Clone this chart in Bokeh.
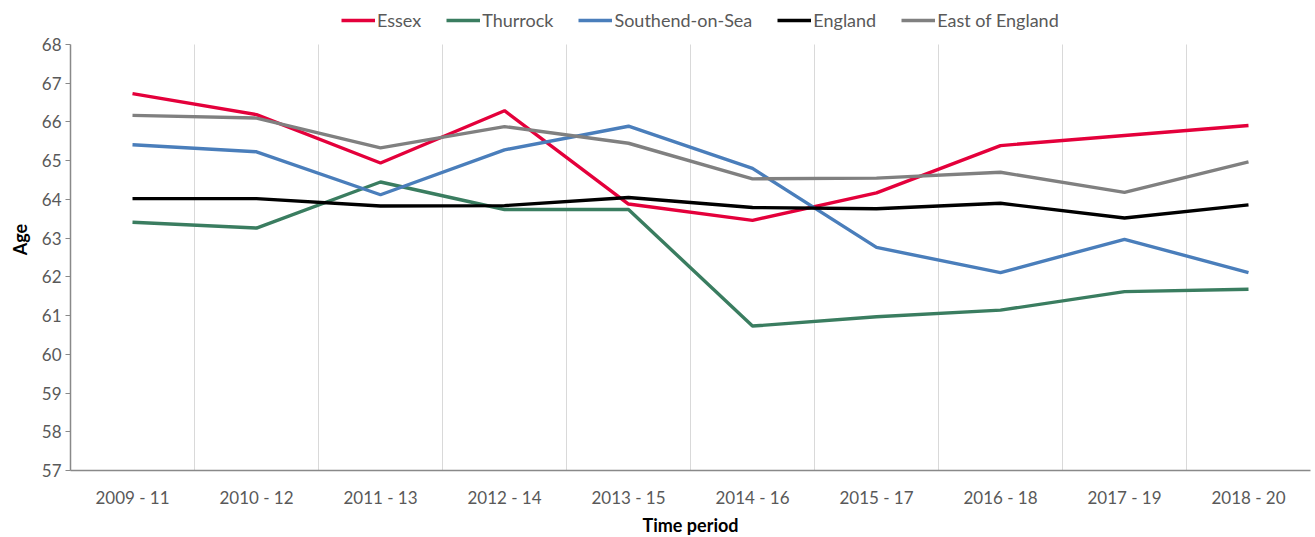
from bokeh.plotting import figure
from bokeh.models import Legend, LegendItem, FixedTicker, Range1d
from bokeh.embed import file_html
from bokeh.resources import INLINE

periods = ["2009 - 11", "2010 - 12", "2011 - 13", "2012 - 14", "2013 - 15",
           "2014 - 16", "2015 - 17", "2016 - 18", "2017 - 19", "2018 - 20"]
essex = [66.73, 66.19, 64.94, 66.29, 63.88, 63.46, 64.17, 65.39, 65.65, 65.91]
thurrock = [63.41, 63.26, 64.45, 63.74, 63.74, 60.73, 60.97, 61.14, 61.62, 61.68]
southend = [65.41, 65.23, 64.12, 65.28, 65.89, 64.80, 62.76, 62.11, 62.97, 62.11]
england = [64.02, 64.02, 63.83, 63.84, 64.05, 63.79, 63.76, 63.90, 63.52, 63.86]
east = [66.17, 66.10, 65.33, 65.88, 65.45, 64.53, 64.55, 64.70, 64.18, 64.97]

series = [("Essex", essex, "#E4003B"),
          ("Thurrock", thurrock, "#3A7D60"),
          ("Southend-on-Sea", southend, "#4A7EBB"),
          ("England", england, "#000000"),
          ("East of England", east, "#808080")]

FONT = "Lato"
xs = [i + 0.5 for i in range(len(periods))]

Y_MIN, Y_MAX = 57, 68
PX_PER_UNIT = 426 / (Y_MAX - Y_MIN)
y_top = Y_MAX + 36 / PX_PER_UNIT  # room above the axis for the legend

p = figure(frame_width=1240, frame_height=462, output_backend="svg", toolbar_location=None,
           x_range=Range1d(0, len(periods)), y_range=Range1d(Y_MIN, y_top),
           min_border_left=70, min_border_right=4, min_border_top=8, min_border_bottom=0)
p.outline_line_color = None
p.background_fill_color = "white"

items = []
for name, vals, col in series:
    r = p.line(xs, vals, line_color=col, line_width=3.4)
    items.append(LegendItem(label=name, renderers=[r]))

p.xaxis.ticker = FixedTicker(ticks=xs)
p.xaxis.major_label_overrides = {x: lab for x, lab in zip(xs, periods)}
p.xgrid.ticker = FixedTicker(ticks=list(range(1, len(periods) + 1)))
p.xgrid.grid_line_color = "#D9D9D9"
p.xgrid.grid_line_width = 1
p.xgrid.cross_bounds = (Y_MIN, Y_MAX)
p.ygrid.grid_line_color = None

p.yaxis.ticker = FixedTicker(ticks=list(range(Y_MIN, Y_MAX + 1)))
p.yaxis.bounds = (Y_MIN, Y_MAX)

for ax in (p.xaxis[0], p.yaxis[0]):
    ax.axis_line_color = "#898989"
    ax.axis_line_width = 1.5
    ax.major_label_text_font = FONT
    ax.major_label_text_font_size = "17px"
    ax.major_label_text_color = "#595959"
    ax.minor_tick_line_color = None
    ax.axis_label_text_font = FONT
    ax.axis_label_text_font_size = "18px"
    ax.axis_label_text_font_style = "bold"
    ax.axis_label_text_color = "#000000"

p.xaxis.major_tick_line_color = None
p.xaxis.major_label_standoff = 10
p.xaxis.axis_label = "Time period"
p.xaxis.axis_label_standoff = 3
p.yaxis.major_tick_line_color = "#898989"
p.yaxis.major_tick_out = 5
p.yaxis.major_tick_in = 0
p.yaxis.major_label_standoff = 4
p.yaxis.axis_label = "Age"
p.yaxis.axis_label_standoff = 8

legend = Legend(items=items, orientation="horizontal", location=(271, 439),
                label_text_font=FONT, label_text_font_size="18px",
                label_text_color="#595959", glyph_width=34, glyph_height=20,
                label_standoff=2, spacing=25, padding=4, margin=0,
                border_line_color=None, background_fill_alpha=0)
p.add_layout(legend, "center")

open("out.html", "w").write(file_html(p, INLINE))
